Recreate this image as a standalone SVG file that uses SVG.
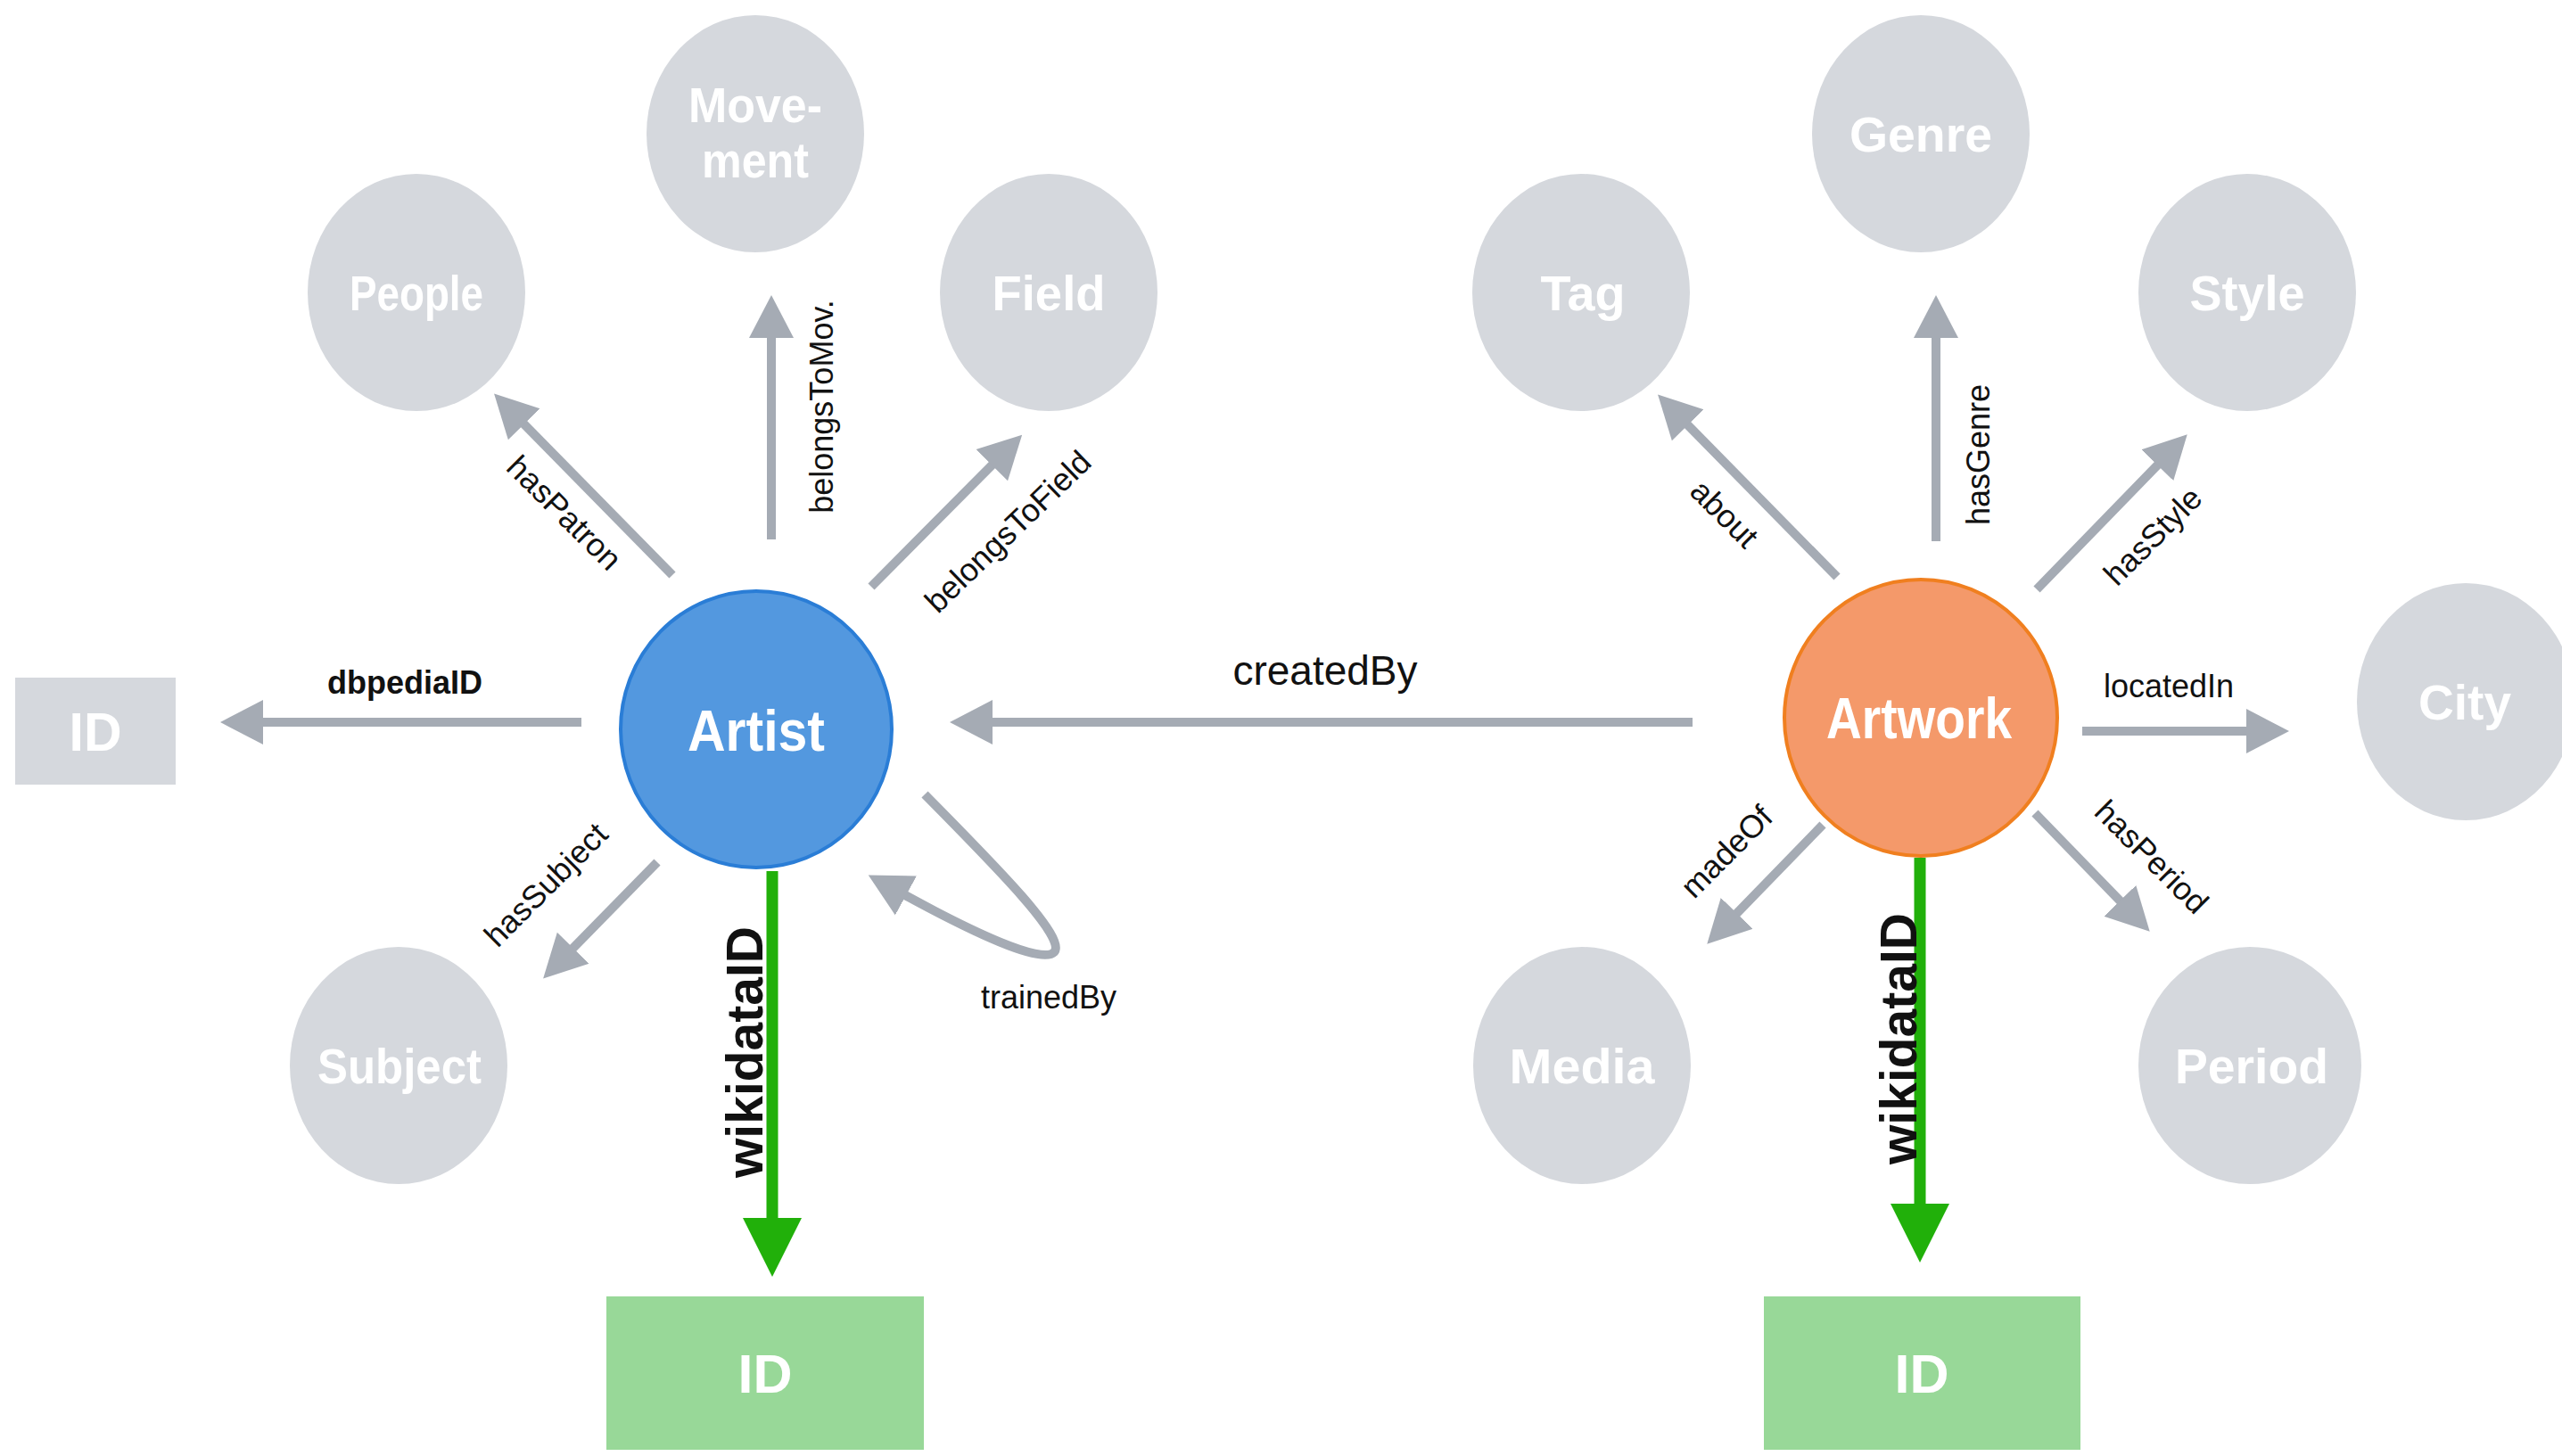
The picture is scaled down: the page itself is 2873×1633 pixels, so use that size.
<svg xmlns="http://www.w3.org/2000/svg" width="2873" height="1633" viewBox="0 0 2873 1633">
<style>
.bg{fill:#ffffff}
.gnode{fill:#D5D8DD}
.nl{font-family:"Liberation Sans",Arial,sans-serif;font-weight:bold;fill:#ffffff;text-anchor:middle;font-size:55px}
.big{font-size:64px}
.conn{stroke:#A5ABB4;stroke-width:10;fill:none;marker-end:url(#ah)}
.green{stroke:#21B00A;stroke-width:13;fill:none;marker-end:url(#gh)}
.el{font-family:"Liberation Sans",Arial,sans-serif;font-size:36px;fill:#111111;text-anchor:middle}
.bold{font-weight:bold}
</style>
<defs>
<marker id="ah" markerUnits="userSpaceOnUse" markerWidth="50" markerHeight="52" viewBox="0 0 50 52" refX="1" refY="26" orient="auto"><path d="M0,1 L48,26 L0,51 z" fill="#A5ABB4"/></marker>
<marker id="gh" markerUnits="userSpaceOnUse" markerWidth="68" markerHeight="68" viewBox="0 0 68 68" refX="1" refY="34" orient="auto"><path d="M0,1 L66,34 L0,67 z" fill="#21B00A"/></marker>
</defs>
<rect class="bg" x="0" y="0" width="2873" height="1633"/>

<g id="connectors">
<path class="conn" d="M754,645 L587,475"/>
<path class="conn" d="M865,605 L865,378"/>
<path class="conn" d="M977,658 L1113,521"/>
<path class="conn" d="M652,810 L294,810"/>
<path class="conn" d="M1898,810 L1112,810"/>
<path class="conn" d="M737,967 L642,1064"/>
<path class="conn" d="M1037,891 C1120,975 1197,1053 1182,1068 C1168,1082 1090,1045 1015,1004"/>
<path class="green" d="M866,977 L866,1367"/>
<path class="conn" d="M2060,647 L1892,476"/>
<path class="conn" d="M2171,607 L2171,378"/>
<path class="conn" d="M2284,661 L2420,521"/>
<path class="conn" d="M2335,820 L2520,820"/>
<path class="conn" d="M2044,925 L1947,1025"/>
<path class="conn" d="M2282,912 L2378,1011"/>
<path class="green" d="M2153,962 L2153,1351"/>

<text class="el" x="633" y="575" dy="0.35em" transform="rotate(45 633 575)">hasPatron</text>
<text class="el" x="921" y="456" dy="0.35em" transform="rotate(-90 921 456)">belongsToMov.</text>
<text class="el" x="1130" y="596" dy="0.35em" transform="rotate(-44 1130 596)">belongsToField</text>
<text class="el bold" x="454" y="778">dbpediaID</text>
<text class="el" x="1486" y="768" style="font-size:46px">createdBy</text>
<text class="el" x="612" y="992" dy="0.35em" transform="rotate(-45 612 992)">hasSubject</text>
<text class="el" x="1176" y="1131">trainedBy</text>
<text class="el bold" x="835" y="1180" dy="0.35em" transform="rotate(-90 835 1180)" style="font-size:57px">wikidataID</text>
<text class="el" x="1934" y="576" dy="0.35em" transform="rotate(45 1934 576)">about</text>
<text class="el" x="2218" y="510" dy="0.35em" transform="rotate(-90 2218 510)">hasGenre</text>
<text class="el" x="2414" y="601" dy="0.35em" transform="rotate(-45 2414 601)">hasStyle</text>
<text class="el" x="2432" y="782">locatedIn</text>
<text class="el" x="1936" y="955" dy="0.35em" transform="rotate(-45 1936 955)">madeOf</text>
<text class="el" x="2413" y="961" dy="0.35em" transform="rotate(45 2413 961)">hasPeriod</text>
<text class="el bold" x="2129" y="1165" dy="0.35em" transform="rotate(-90 2129 1165)" style="font-size:57px">wikidataID</text>
</g>

<g id="node-people"><ellipse class="gnode" cx="467" cy="328" rx="122" ry="133"/><text class="nl" x="467" y="348" textLength="150" lengthAdjust="spacingAndGlyphs">People</text></g>
<g id="node-movement"><ellipse class="gnode" cx="847" cy="150" rx="122" ry="133"/><text class="nl" x="847" y="137" textLength="150" lengthAdjust="spacingAndGlyphs">Move-</text><text class="nl" x="847" y="199" textLength="120" lengthAdjust="spacingAndGlyphs">ment</text></g>
<g id="node-field"><ellipse class="gnode" cx="1176" cy="328" rx="122" ry="133"/><text class="nl" x="1176" y="348" textLength="127" lengthAdjust="spacingAndGlyphs">Field</text></g>
<g id="node-id-dbpedia"><rect class="gnode" x="17" y="760" width="180" height="120"/><text class="nl" x="107" y="842" style="font-size:62px" textLength="59" lengthAdjust="spacingAndGlyphs">ID</text></g>
<g id="node-artist"><ellipse cx="848" cy="818" rx="152" ry="155" fill="#5398DF" stroke="#2A7DD6" stroke-width="4"/><text class="nl big" x="848" y="842" textLength="154" lengthAdjust="spacingAndGlyphs">Artist</text></g>
<g id="node-subject"><ellipse class="gnode" cx="447" cy="1195" rx="122" ry="133"/><text class="nl" x="448" y="1215" textLength="184" lengthAdjust="spacingAndGlyphs">Subject</text></g>
<g id="node-id-wikidata-artist"><rect x="680" y="1454" width="356" height="172" fill="#98D898"/><text class="nl" x="858" y="1562" style="font-size:62px" textLength="61" lengthAdjust="spacingAndGlyphs">ID</text></g>

<g id="node-tag"><ellipse class="gnode" cx="1773" cy="328" rx="122" ry="133"/><text class="nl" x="1775" y="348" textLength="95" lengthAdjust="spacingAndGlyphs">Tag</text></g>
<g id="node-genre"><ellipse class="gnode" cx="2154" cy="150" rx="122" ry="133"/><text class="nl" x="2154" y="170" textLength="160" lengthAdjust="spacingAndGlyphs">Genre</text></g>
<g id="node-style"><ellipse class="gnode" cx="2520" cy="328" rx="122" ry="133"/><text class="nl" x="2520" y="348" textLength="129" lengthAdjust="spacingAndGlyphs">Style</text></g>
<g id="node-artwork"><ellipse cx="2154" cy="805" rx="153" ry="155" fill="#F4996A" stroke="#F07F1F" stroke-width="4"/><text class="nl big" x="2152" y="828" textLength="208" lengthAdjust="spacingAndGlyphs">Artwork</text></g>
<g id="node-city"><ellipse class="gnode" cx="2765" cy="787" rx="122" ry="133"/><text class="nl" x="2764" y="807" textLength="104" lengthAdjust="spacingAndGlyphs">City</text></g>
<g id="node-media"><ellipse class="gnode" cx="1774" cy="1195" rx="122" ry="133"/><text class="nl" x="1774" y="1215" textLength="163" lengthAdjust="spacingAndGlyphs">Media</text></g>
<g id="node-period"><ellipse class="gnode" cx="2523" cy="1195" rx="125" ry="133"/><text class="nl" x="2525" y="1215" textLength="172" lengthAdjust="spacingAndGlyphs">Period</text></g>
<g id="node-id-wikidata-artwork"><rect x="1978" y="1454" width="355" height="172" fill="#98D898"/><text class="nl" x="2155" y="1562" style="font-size:62px" textLength="61" lengthAdjust="spacingAndGlyphs">ID</text></g>
</svg>
